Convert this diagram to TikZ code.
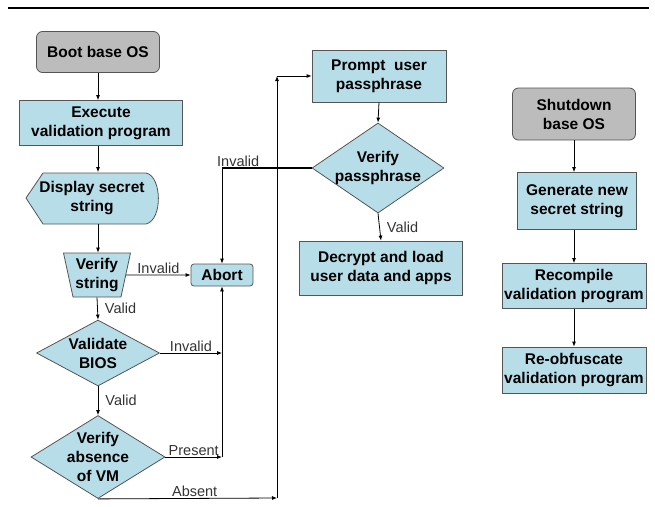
\documentclass[tikz,border=0pt]{standalone}
\usepackage{fontspec}
\setmainfont{Liberation Sans}
\usetikzlibrary{arrows.meta,shapes.geometric}

\definecolor{boxblue}{RGB}{183,221,232}
\definecolor{boxgrey}{RGB}{188,188,188}
\definecolor{edgegrey}{RGB}{85,85,85}

\tikzset{
  every node/.style={font=\fontsize{15.5}{19}\selectfont\bfseries, align=center},
  proc/.style={rectangle, draw=edgegrey, fill=boxblue, inner sep=0pt},
  term/.style={rectangle, rounded corners=6pt, draw=edgegrey, fill=boxgrey, inner sep=0pt},
  dec/.style={diamond, draw=edgegrey, fill=boxblue, inner sep=-8pt},
  lbl/.style={font=\fontsize{14.5}{16}\selectfont, text=black!80, inner sep=1pt},
}

\begin{document}
\begin{tikzpicture}[x=1pt,y=-1pt,->,>={Latex[length=5pt,width=4pt]},line width=0.8pt]
  \useasboundingbox (0,0) rectangle (655,506);
  \draw[-,line width=2.5pt] (8,8) -- (649,8);

  % boot sequence
  \node[term, minimum width=123, minimum height=41] (boot) at (98,52) {Boot base OS};
  \node[proc, minimum width=163, minimum height=45] (exec) at (101,123) {Execute\\validation program};
  \draw[-, draw=edgegrey, fill=boxblue] (26,198) -- (43,173) -- (146,173)
    .. controls (162,176) and (163,220) .. (146,224) -- (43,224) -- cycle;
  \node[minimum width=135, minimum height=51, inner sep=0pt] (show) at (92,198) {Display secret\\string};
  \node[trapezium, trapezium angle=75, shape border rotate=180, trapezium stretches=true,
    draw=edgegrey, fill=boxblue, minimum width=67, minimum height=44, inner sep=-3pt] (chk) at (97,275) {Verify\\string};
  \node[proc, rounded corners=3pt, minimum width=62, minimum height=22] (abort) at (222,275) {Abort};
  \node[dec, aspect=1.86, minimum width=123, minimum height=66] (bios) at (98,353) {Validate\\BIOS};
  \node[dec, aspect=1.61, minimum width=134, minimum height=83] (vm) at (98,457) {Verify\\absence\\of VM};
  \node[proc, minimum width=134, minimum height=52] (prompt) at (379,76) {Prompt~ user\\passphrase};
  \node[dec, aspect=1.47, minimum width=132, minimum height=90] (pass) at (378,168) {Verify\\passphrase};
  \node[proc, minimum width=163, minimum height=54] (load) at (381,268) {Decrypt and load\\user data and apps};

  % shutdown sequence
  \node[term, minimum width=123, minimum height=52] (shut) at (574,114) {Shutdown\\base OS};
  \node[proc, minimum width=119, minimum height=57] (gen) at (577,201) {Generate new\\secret string};
  \node[proc, minimum width=144, minimum height=45] (recomp) at (574,286) {Recompile\\validation program};
  \node[proc, minimum width=144, minimum height=46] (reobf) at (574,370) {Re-obfuscate\\validation program};

  \coordinate (jb) at (abort.south |- bios.east);
  \coordinate (jv) at (abort.south |- vm.east);
  \coordinate (ja) at (277,498);
  \coordinate (jt) at (ja |- prompt.west);
  \coordinate (jp) at (abort.north |- pass.west);

  \draw (boot.south) -- (boot.south |- exec.north);
  \draw (boot.south |- exec.south) -- (boot.south |- show.north);
  \draw (boot.south |- show.south) -- (boot.south |- chk.north);
  \draw (chk.east) -- node[lbl, above] {Invalid} (abort.west);
  \draw (chk.south) -- node[lbl, right=6pt] {Valid} (bios.north);
  \draw (bios.east) -- node[lbl, above] {Invalid} (jb);
  \draw (bios.south) -- node[lbl, right=6pt] {Valid} (vm.north);
  \draw (vm.east) -- node[lbl, above] {Present} (jv);
  \draw (jv) -- (abort.south);
  \draw (vm.south) -- node[lbl, above, pos=0.54] {Absent} (ja);
  \draw (ja) -- (jt);
  \draw (jt) -- (prompt.west);
  \draw (prompt.south) -- (pass.north);
  \draw[-, line width=1.4pt] (pass.west) -- node[lbl, above, pos=0.82] {Invalid} (jp);
  \draw (jp) -- (abort.north);
  \draw (pass.south) -- node[lbl, right=6pt] {Valid} (load.north);

  \draw (shut.south) -- (shut.south |- gen.north);
  \draw (shut.south |- gen.south) -- (shut.south |- recomp.north);
  \draw (recomp.south) -- (reobf.north);
\end{tikzpicture}
\end{document}
